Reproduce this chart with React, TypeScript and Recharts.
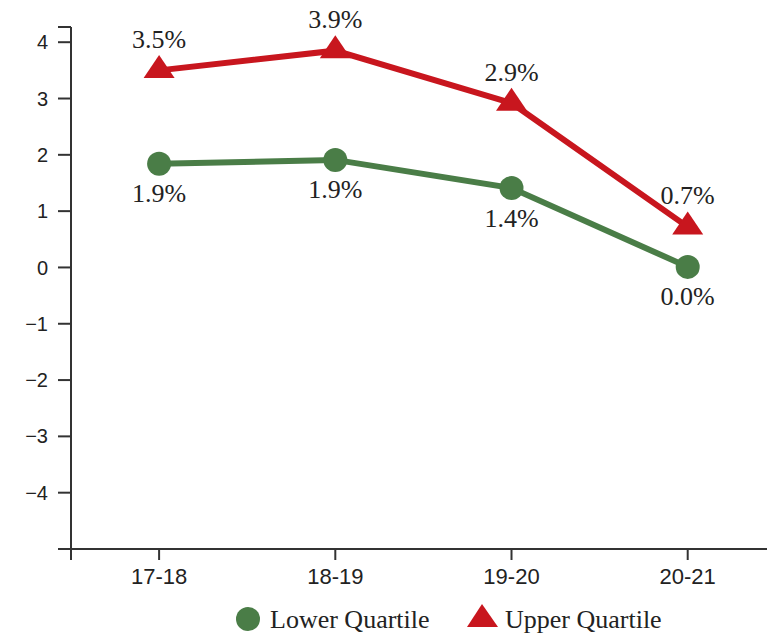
import { LineChart, Line, XAxis, YAxis, Legend } from "recharts";

const periods = ["17-18", "18-19", "19-20", "20-21"];
const lowerQuartile = [1.84, 1.91, 1.41, 0.01];
const upperQuartile = [3.5, 3.85, 2.92, 0.72];
const lowerLabels = ["1.9%", "1.9%", "1.4%", "0.0%"];
const upperLabels = ["3.5%", "3.9%", "2.9%", "0.7%"];
const yTicks = [-5, -4, -3, -2, -1, 0, 1, 2, 3, 4, 4.27];
const xTicks = [-0.5, 0, 1, 2, 3];

const RED = "#c8161e";
const GREEN = "#4a7d47";
const AXIS = "#333333";
const SERIF = "'Liberation Serif', 'Times New Roman', serif";
const SANS = "'Liberation Sans', Arial, sans-serif";

const data = periods.map((p, i) => ({
  idx: i,
  period: p,
  lower: lowerQuartile[i],
  upper: upperQuartile[i],
}));

function Triangle({ cx, cy, w = 31, h = 23 }: { cx: number; cy: number; w?: number; h?: number }) {
  const top = cy - (h * 2) / 3;
  const bottom = cy + h / 3;
  return (
    <polygon
      points={`${cx},${top} ${cx - w / 2},${bottom} ${cx + w / 2},${bottom}`}
      fill={RED}
    />
  );
}

const renderTriangleDot = (props: any) => {
  const { cx, cy, index } = props;
  if (cx == null || cy == null) return <g key={`t-${index}`} />;
  return (
    <g key={`t-${index}`}>
      <Triangle cx={cx} cy={cy} />
    </g>
  );
};

const makeLabel = (labels: string[], dy: number) => (props: any) => {
  const { x, y, index } = props;
  return (
    <text
      key={`l-${dy}-${index}`}
      x={x}
      y={y + dy}
      textAnchor="middle"
      dominantBaseline="central"
      fontFamily={SERIF}
      fontSize={26}
      fill="#222"
    >
      {labels[index]}
    </text>
  );
};

const renderLegend = () => (
  <svg width={767} height={40} style={{ display: "block" }}>
    <circle cx={248} cy={21} r={12} fill={GREEN} />
    <text x={270} y={30} fontFamily={SERIF} fontSize={26} fill="#222">
      Lower Quartile
    </text>
    <polygon points="482,6 467,29 498,29" fill={RED} />
    <text x={505} y={30} fontFamily={SERIF} fontSize={26} fill="#222">
      Upper Quartile
    </text>
  </svg>
);

const fmtY = (v: number) => {
  if (v === -5 || v > 4) return "";
  return v < 0 ? `\u2212${Math.abs(v)}` : String(v);
};

const fmtX = (v: number) => (v < 0 ? "" : periods[v] ?? "");

export default function App() {
  return (
    <div style={{ position: "absolute", left: 0, top: 0, background: "#fff" }}>
      <LineChart
        width={767}
        height={633}
        data={data}
        margin={{ top: 27, right: 0, bottom: 0, left: 0 }}
      >
        <XAxis
          dataKey="idx"
          type="number"
          domain={[-0.5, 3.45]}
          allowDataOverflow
          ticks={xTicks}
          interval={0}
          tickFormatter={fmtX}
          height={84}
          tickSize={11}
          tickMargin={8}
          axisLine={{ stroke: AXIS, strokeWidth: 2 }}
          tickLine={{ stroke: AXIS, strokeWidth: 2 }}
          tick={{ fill: "#222", fontSize: 22, fontFamily: SANS }}
        />
        <YAxis
          type="number"
          domain={[-5, 4.27]}
          allowDataOverflow
          ticks={yTicks}
          interval={0}
          tickFormatter={fmtY}
          width={71}
          tickSize={13}
          tickMargin={10}
          axisLine={{ stroke: AXIS, strokeWidth: 2 }}
          tickLine={{ stroke: AXIS, strokeWidth: 2 }}
          tick={{ fill: "#222", fontSize: 20, fontFamily: SANS }}
        />
        <Legend
          layout="horizontal"
          verticalAlign="middle"
          align="center"
          content={renderLegend}
          wrapperStyle={{ left: 0, top: 598, width: 767, height: 40 }}
        />
        <Line
          type="linear"
          dataKey="lower"
          name="Lower Quartile"
          stroke={GREEN}
          strokeWidth={6}
          dot={{ r: 12, fill: GREEN, stroke: "none" }}
          activeDot={false}
          label={makeLabel(lowerLabels, 30)}
          isAnimationActive={false}
        />
        <Line
          type="linear"
          dataKey="upper"
          name="Upper Quartile"
          stroke={RED}
          strokeWidth={6}
          dot={renderTriangleDot}
          activeDot={false}
          label={makeLabel(upperLabels, -31)}
          isAnimationActive={false}
        />
      </LineChart>
    </div>
  );
}
